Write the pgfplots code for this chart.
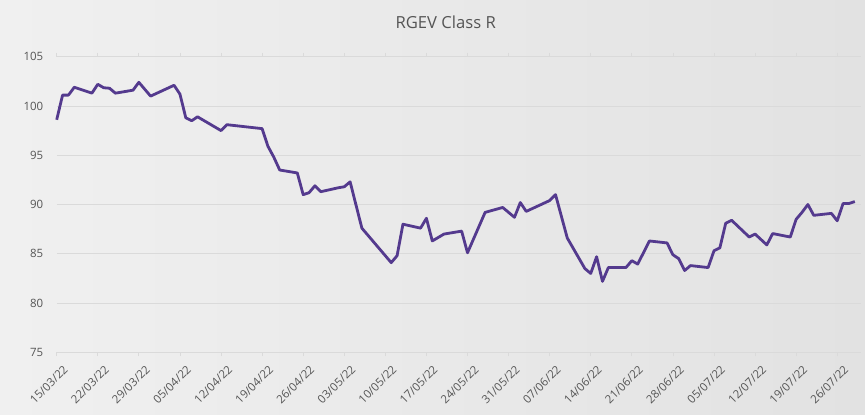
\documentclass[border=0pt]{standalone}
\usepackage{pgfplots}
\pgfplotsset{compat=1.18}
\usepackage{fontspec}
\setmainfont{Open Sans}
\usetikzlibrary{calc,backgrounds}
\definecolor{linecol}{RGB}{84,58,142}
\definecolor{txtcol}{RGB}{85,85,85}
\definecolor{gridcol}{RGB}{218,218,218}
\definecolor{bgleft}{RGB}{240,240,240}
\definecolor{bgright}{RGB}{226,226,226}
\begin{document}
\begin{tikzpicture}
\begin{axis}[
  name=ax, at={(0,0)}, anchor=south west,
  scale only axis, width=804bp, height=295.6bp,
  xmin=0, xmax=137, ymin=75, ymax=105,
  ytick={75,80,85,90,95,100,105},
  xtick={0,7,14,21,28,35,42,49,56,63,70,77,84,91,98,105,112,119,126,133},
  xticklabels={15/03/22,22/03/22,29/03/22,05/04/22,12/04/22,19/04/22,26/04/22,03/05/22,10/05/22,17/05/22,24/05/22,31/05/22,07/06/22,14/06/22,21/06/22,28/06/22,05/07/22,12/07/22,19/07/22,26/07/22},
  axis line style={draw=none},
  ymajorgrids, grid style={draw=gridcol, line width=0.8pt},
  tick align=outside, major tick length=4bp,
  xtick style={draw=gridcol, line width=0.8pt},
  ytick style={draw=none},
  tick label style={font=\fontsize{11.5}{13}\selectfont, text=txtcol},
  xticklabel style={xshift=6bp, yshift=-6bp, rotate=45, anchor=north east, inner sep=1.5pt},
  yticklabel style={xshift=-6bp},
  /pgf/number format/assume math mode=true,
  clip=false,
]
\addplot[linecol, line width=2.8bp, line join=round] coordinates {
(0,98.6) (1,101.1) (2,101.1) (3,101.9) (6,101.3) (7,102.2) (8,101.85) (9,101.8)
(10,101.3) (13,101.6) (14,102.4) (16,101.0) (20,102.1) (21,101.2) (22,98.8)
(23,98.5) (24,98.9) (28,97.5) (29,98.1) (35,97.7) (36,95.9) (37,94.8) (38,93.5)
(41,93.2) (42,91.0) (43,91.2) (44,91.9) (45,91.3) (48,91.7) (49,91.8) (50,92.3)
(52,87.6) (57,84.1) (58,84.8) (59,88.0) (62,87.6) (63,88.6) (64,86.3) (66,87.0)
(69,87.3) (70,85.1) (73,89.2) (76,89.7) (78,88.7) (79,90.2) (80,89.3) (84,90.4)
(85,91.0) (87,86.6) (90,83.5) (91,83.0) (92,84.7) (93,82.2) (94,83.6) (97,83.6)
(98,84.3) (99,83.95) (101,86.3) (104,86.1) (105,84.9) (106,84.5) (107,83.3)
(108,83.8) (111,83.6) (112,85.3) (113,85.6) (114,88.1) (115,88.4) (118,86.7)
(119,87.0) (121,85.9) (122,87.05) (125,86.7) (126,88.5) (127,89.2) (128,90.0)
(129,88.9) (132,89.1) (133,88.35) (134,90.1) (135,90.1) (136,90.3)
};
\end{axis}
\node[text=txtcol, font=\fontsize{16.7}{19}\selectfont] at ($(ax.south west)+(389bp,330.3bp)$) {RGEV Class R};
\begin{pgfonlayer}{background}
\fill[left color=bgleft, right color=bgright] ($(ax.south west)+(-56.7bp,-62.7bp)$) rectangle ($(ax.north east)+(4.3bp,56.7bp)$);
\end{pgfonlayer}
\pgfresetboundingbox
\path[use as bounding box] ($(ax.south west)+(-56.7bp,-62.7bp)$) rectangle ($(ax.north east)+(4.3bp,56.7bp)$);
\end{tikzpicture}
\end{document}
